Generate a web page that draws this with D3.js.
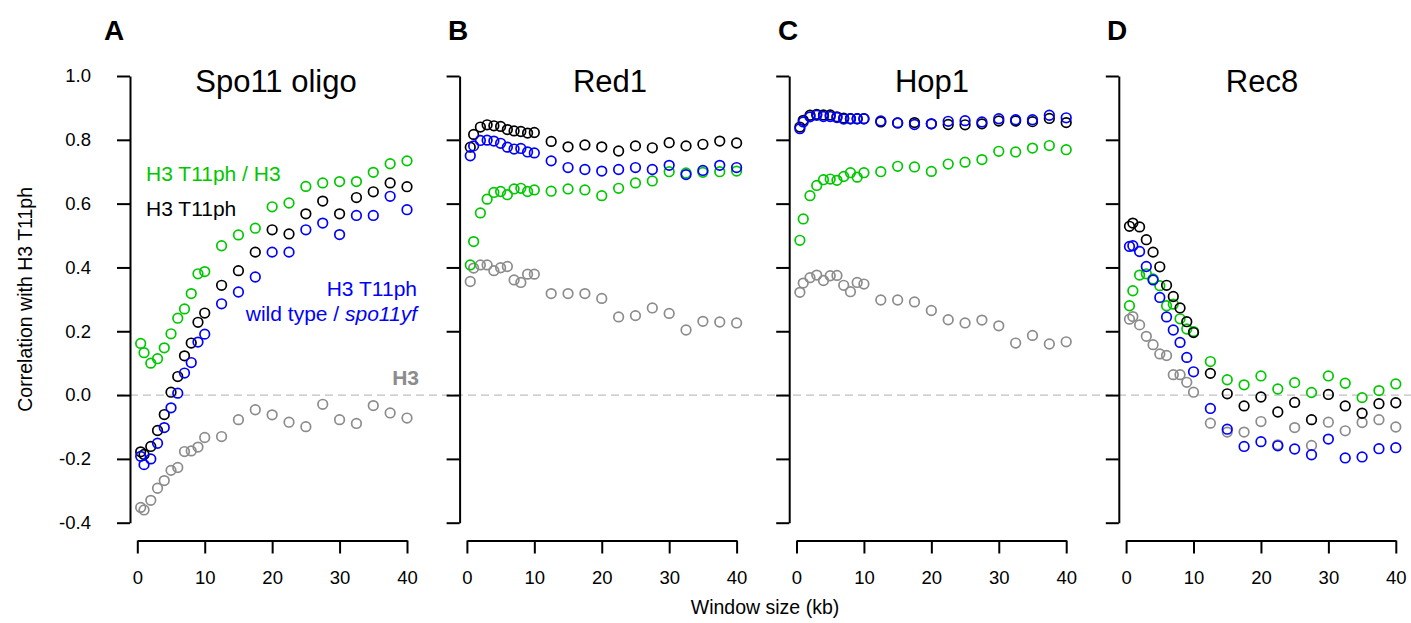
<!DOCTYPE html>
<html>
<head>
<meta charset="utf-8">
<script src="https://cdn.jsdelivr.net/npm/d3@7"></script>
<style>
  body { margin: 0; background: #fff; }
  svg { display: block; font-family: "Liberation Sans", Arial, sans-serif; }
</style>
</head>
<body>
<div id="chart"></div>
<script>
// window sizes (kb), same for every panel
var windowKb = [0.5, 1, 2, 3, 4, 5, 6, 7, 8, 9, 10, 12.5, 15, 17.5, 20, 22.5, 25, 27.5, 30, 32.5, 35, 37.5, 40];

var panelNames = ["Spo11 oligo", "Red1", "Hop1", "Rec8"];
var panelLetters = ["A", "B", "C", "D"];
var xTicks = [0, 10, 20, 30, 40];
var yTicks = [-0.4, -0.2, 0, 0.2, 0.4, 0.6, 0.8, 1.0];

// H3 (gray)
var h3Spo11 = [-0.352, -0.360, -0.330, -0.292, -0.268, -0.236, -0.227, -0.177, -0.175, -0.163, -0.133, -0.130, -0.077, -0.046, -0.062, -0.085, -0.099, -0.029, -0.077, -0.089, -0.033, -0.056, -0.072];
var h3Red1  = [0.356, 0.398, 0.408, 0.408, 0.390, 0.399, 0.403, 0.361, 0.353, 0.379, 0.379, 0.318, 0.318, 0.318, 0.303, 0.245, 0.249, 0.273, 0.256, 0.204, 0.231, 0.229, 0.226];
var h3Hop1  = [0.322, 0.351, 0.368, 0.376, 0.359, 0.374, 0.375, 0.344, 0.324, 0.353, 0.348, 0.298, 0.298, 0.292, 0.265, 0.236, 0.226, 0.235, 0.217, 0.163, 0.187, 0.160, 0.167];
var h3Rec8  = [0.238, 0.246, 0.220, 0.184, 0.158, 0.129, 0.124, 0.064, 0.064, 0.040, 0.009, -0.088, -0.116, -0.116, -0.083, -0.156, -0.102, -0.158, -0.085, -0.112, -0.086, -0.077, -0.100];

// H3 T11ph / H3 (green)
var ratioSpo11 = [0.162, 0.133, 0.100, 0.114, 0.148, 0.192, 0.241, 0.270, 0.318, 0.380, 0.387, 0.468, 0.502, 0.523, 0.590, 0.602, 0.654, 0.665, 0.669, 0.669, 0.698, 0.725, 0.734];
var ratioRed1  = [0.408, 0.481, 0.571, 0.614, 0.635, 0.638, 0.628, 0.646, 0.648, 0.638, 0.643, 0.639, 0.646, 0.643, 0.625, 0.648, 0.665, 0.671, 0.700, 0.696, 0.698, 0.700, 0.702];
var ratioHop1  = [0.485, 0.552, 0.625, 0.657, 0.675, 0.677, 0.673, 0.685, 0.697, 0.683, 0.697, 0.700, 0.717, 0.715, 0.701, 0.724, 0.730, 0.738, 0.764, 0.762, 0.774, 0.782, 0.769];
var ratioRec8  = [0.280, 0.327, 0.376, 0.380, 0.364, 0.343, 0.280, 0.285, 0.239, 0.207, 0.199, 0.105, 0.048, 0.032, 0.060, 0.019, 0.039, 0.008, 0.060, 0.037, -0.008, 0.014, 0.035];

// H3 T11ph (black)
var t11Spo11 = [-0.178, -0.186, -0.161, -0.111, -0.061, 0.009, 0.058, 0.123, 0.163, 0.228, 0.257, 0.344, 0.390, 0.448, 0.518, 0.505, 0.568, 0.608, 0.568, 0.619, 0.637, 0.665, 0.653];
var t11Red1  = [0.777, 0.817, 0.840, 0.847, 0.844, 0.842, 0.832, 0.828, 0.826, 0.821, 0.823, 0.795, 0.778, 0.784, 0.778, 0.765, 0.781, 0.775, 0.791, 0.781, 0.786, 0.796, 0.790];
var t11Hop1  = [0.840, 0.861, 0.877, 0.880, 0.878, 0.878, 0.872, 0.868, 0.866, 0.866, 0.866, 0.856, 0.853, 0.854, 0.850, 0.848, 0.847, 0.850, 0.859, 0.859, 0.857, 0.867, 0.854];
var t11Rec8  = [0.529, 0.539, 0.527, 0.487, 0.448, 0.402, 0.344, 0.309, 0.273, 0.230, 0.196, 0.068, 0.004, -0.034, -0.006, -0.053, -0.023, -0.077, 0.002, -0.034, -0.057, -0.027, -0.024];

// H3 T11ph wild type / spo11yf (blue)
var wtSpo11 = [-0.192, -0.218, -0.200, -0.151, -0.102, -0.040, 0.006, 0.069, 0.102, 0.166, 0.191, 0.286, 0.323, 0.370, 0.448, 0.448, 0.518, 0.539, 0.503, 0.563, 0.563, 0.623, 0.581];
var wtRed1  = [0.750, 0.781, 0.798, 0.799, 0.796, 0.789, 0.777, 0.771, 0.773, 0.762, 0.759, 0.734, 0.713, 0.707, 0.702, 0.707, 0.713, 0.707, 0.720, 0.691, 0.704, 0.720, 0.713];
var wtHop1  = [0.835, 0.856, 0.872, 0.877, 0.873, 0.873, 0.870, 0.865, 0.866, 0.866, 0.866, 0.859, 0.853, 0.848, 0.850, 0.858, 0.860, 0.856, 0.866, 0.863, 0.863, 0.877, 0.869];
var wtRec8  = [0.466, 0.468, 0.450, 0.403, 0.361, 0.306, 0.245, 0.204, 0.165, 0.118, 0.073, -0.042, -0.107, -0.161, -0.146, -0.159, -0.169, -0.187, -0.138, -0.197, -0.194, -0.168, -0.165];

var colors = { h3: "#8c8c8c", ratio: "#00c800", t11: "#000000", wt: "#0000ff" };

// drawing order: gray, green, black, blue
var panelSeries = [
  [[h3Spo11, colors.h3], [ratioSpo11, colors.ratio], [t11Spo11, colors.t11], [wtSpo11, colors.wt]],
  [[h3Red1, colors.h3], [ratioRed1, colors.ratio], [t11Red1, colors.t11], [wtRed1, colors.wt]],
  [[h3Hop1, colors.h3], [ratioHop1, colors.ratio], [t11Hop1, colors.t11], [wtHop1, colors.wt]],
  [[h3Rec8, colors.h3], [ratioRec8, colors.ratio], [t11Rec8, colors.t11], [wtRec8, colors.wt]]
];

var width = 1411, height = 623;
var x0 = 137.3, panelStep = 329.6, plotW = 269.7;
var yTop = 76, yBottom = 522.7, xAxisY = 540.5, axisGap = 7.3;
var letterX = [114, 458, 788, 1117];
var titleX = [276, 610, 932, 1262];

var svg = d3.select("#chart").append("svg")
  .attr("width", width)
  .attr("height", height);

var y = d3.scaleLinear().domain([-0.4, 1.0]).range([yBottom, yTop]);

// zero line runs across all panels
svg.append("line")
  .attr("x1", x0 - axisGap - 13)
  .attr("x2", width)
  .attr("y1", y(0))
  .attr("y2", y(0))
  .style("stroke", "#c0c0c0")
  .style("stroke-width", 1.2)
  .style("stroke-dasharray", "8,5");

panelNames.forEach(function (name, i) {
  var left = x0 + i * panelStep;
  var x = d3.scaleLinear().domain([0, 40]).range([left, left + plotW]);
  var g = svg.append("g");

  var yAxis = d3.axisLeft(y)
    .tickValues(yTicks)
    .tickSize(13)
    .tickSizeOuter(0)
    .tickPadding(26)
    .tickFormat(function (d) { return i === 0 ? d.toFixed(1) : ""; });

  var xAxis = d3.axisBottom(x)
    .tickValues(xTicks)
    .tickSize(13)
    .tickSizeOuter(0)
    .tickPadding(17)
    .tickFormat(d3.format("d"));

  [g.append("g").attr("transform", "translate(" + (left - axisGap) + ",0)").call(yAxis),
   g.append("g").attr("transform", "translate(0," + xAxisY + ")").call(xAxis)]
    .forEach(function (ax) {
      ax.selectAll("path, line").style("stroke", "#000").style("stroke-width", 2);
      ax.selectAll("text").style("font-size", "18.5px").style("fill", "#000")
        .style("font-family", "'Liberation Sans', Arial, sans-serif");
    });

  panelSeries[i].forEach(function (s) {
    g.selectAll(null)
      .data(s[0])
      .enter().append("circle")
      .attr("cx", function (d, k) { return x(windowKb[k]); })
      .attr("cy", function (d) { return y(d); })
      .attr("r", 4.8)
      .style("fill", "none")
      .style("stroke", s[1])
      .style("stroke-width", 1.7);
  });

  svg.append("text")
    .attr("x", titleX[i])
    .attr("y", 92)
    .attr("text-anchor", "middle")
    .style("font-size", "31px")
    .text(name);

  svg.append("text")
    .attr("x", letterX[i])
    .attr("y", 40)
    .attr("text-anchor", "middle")
    .style("font-size", "28px")
    .style("font-weight", "bold")
    .text(panelLetters[i]);
});

// legend texts inside panel A
function label(txt, xPos, yPos, color, anchor, weight) {
  return svg.append("text")
    .attr("x", xPos)
    .attr("y", yPos)
    .attr("text-anchor", anchor)
    .style("font-size", "21px")
    .style("font-weight", weight || "normal")
    .style("fill", color)
    .text(txt);
}
label("H3 T11ph / H3", 146, 181, colors.ratio, "start");
label("H3 T11ph", 146, 216, colors.t11, "start");
label("H3 T11ph", 417, 296, colors.wt, "end");
var wtLabel = label("wild type / ", 417, 321, colors.wt, "end");
wtLabel.append("tspan").style("font-style", "italic").text("spo11yf");
label("H3", 419, 385, colors.h3, "end", "bold");

// axis titles
svg.append("text")
  .attr("transform", "translate(32," + ((yTop + yBottom) / 2) + ") rotate(-90)")
  .attr("text-anchor", "middle")
  .style("font-size", "19.5px")
  .text("Correlation with H3 T11ph");

svg.append("text")
  .attr("x", 765)
  .attr("y", 614)
  .attr("text-anchor", "middle")
  .style("font-size", "19.5px")
  .text("Window size (kb)");
</script>
</body>
</html>
